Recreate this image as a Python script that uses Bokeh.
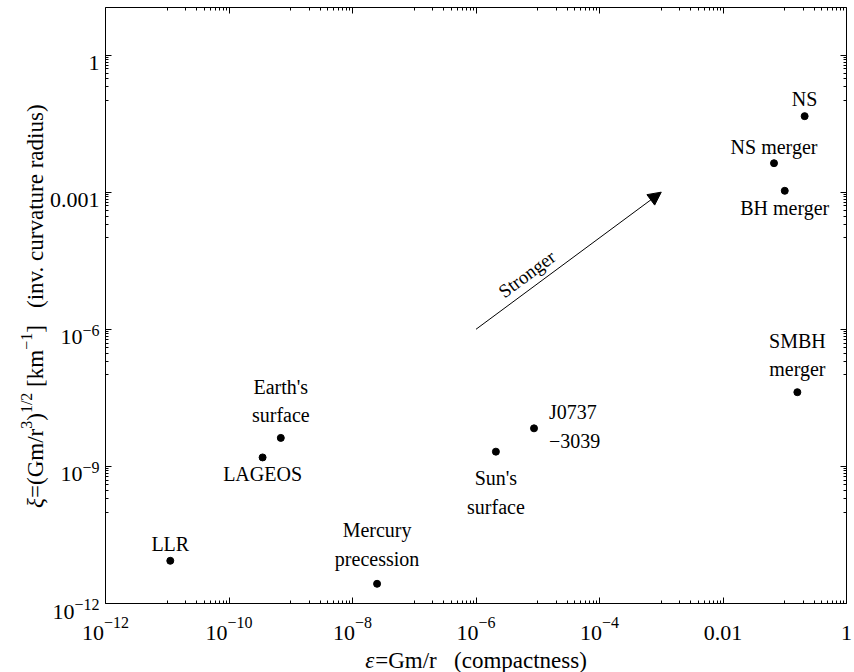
import math
from bokeh.plotting import figure
from bokeh.models import (ColumnDataSource, LogAxis, FixedTicker, Arrow, NormalHead,
                          CustomJSTickFormatter)
from bokeh.core.properties import value
from bokeh.embed import file_html
from bokeh.resources import INLINE

NB = "\u00a0"

# ---- data ----
names = ["LLR", "LAGEOS", "Earth's\nsurface", "Mercury\nprecession", "Sun's\nsurface",
         "J0737\n\u22123039", "NS", "NS merger", "BH merger", "SMBH\nmerger"]
compactness = [1.12e-11, 3.5e-10, 6.9e-10, 2.5e-8, 2.1e-6, 8.7e-6, 0.21, 0.067, 0.10, 0.16]
curvature = [8.6e-12, 1.57e-9, 4.2e-9, 2.7e-12, 2.1e-9, 6.8e-9, 0.046, 0.0043, 0.00107, 4.2e-8]

# axis extents (data) and tick labels as (base, exponent)
x_lim = (1e-12, 1.0)
y_lim = (1e-12, 10 ** 1.04)
x_major = [1e-12, 1e-10, 1e-8, 1e-6, 1e-4, 1e-2, 1.0]
x_base = ["10", "10", "10", "10", "10", "0.01", "1"]
x_exp = ["\u221212", "\u221210", "\u22128", "\u22126", "\u22124", "", ""]
y_major = [1e-12, 1e-9, 1e-6, 1e-3, 1.0]
y_base = ["10", "10", "10", "0.001", "1"]
y_exp = ["\u221212", "\u22129", "\u22126", "", ""]

arrow_start = (1e-6, 1e-6)
arrow_end = (1e-3, 1e-3)
arrow_text = "Stronger"

# axis titles split into pieces (text, superscript?, italic?)
x_title_parts = ["\u03b5", "=Gm/r" + NB * 3 + "(compactness)"]
x_title_italic = [True, False]
y_title_parts = ["\u03be", "=(Gm/r", "3", ")", "1/2", NB + "[km", "\u22121",
                 "]" + NB * 3 + "(inv." + NB + "curvature" + NB + "radius)"]
y_title_sup = [False, False, True, False, True, False, True, False]
y_title_italic = [True, False, False, False, False, False, False, False]

# point-label placement (screen px offsets from the point)
label_dx = [0, 0, 0, 0, 0, 15, 0, 0, 0, 0]
label_dy = [-17, 17, -37, -39, 41, -2, -17, -16, 17, -37]
label_align = ["center"] * 5 + ["left"] + ["center"] * 4

FONT = "Liberation Serif"
TICK_PX, EXP_PX = 22, 16
XT_PX = 23
YT_PX, YT_SUP_PX = 23, 16

# ---- layout: the frame fills the canvas; the box [x_lim]x[y_lim] sits inside ----
W, H = 854, 672
BOX_L, BOX_R, BOX_T, BOX_B = 105, 846, 7, 603
lx0, lx1 = math.log10(x_lim[0]), math.log10(x_lim[1])
ly0, ly1 = math.log10(y_lim[0]), math.log10(y_lim[1])
ppd_x = (BOX_R - BOX_L) / (lx1 - lx0)
ppd_y = (BOX_B - BOX_T) / (ly1 - ly0)
x_range = (10 ** (lx0 - BOX_L / ppd_x), 10 ** (lx1 + (W - BOX_R) / ppd_x))
y_range = (10 ** (ly0 - (H - BOX_B) / ppd_y), 10 ** (ly1 + BOX_T / ppd_y))

p = figure(width=W, height=H, x_axis_type="log", y_axis_type="log",
           x_axis_location=None, y_axis_location=None,
           x_range=x_range, y_range=y_range, output_backend="svg",
           toolbar_location=None, min_border=0)
p.outline_line_color = None
p.background_fill_color = "white"
p.border_fill_color = "white"
p.xgrid.visible = False
p.ygrid.visible = False
for r in list(p.center):
    r.visible = False


def minor_for(majors):
    out = []
    for m in majors:
        e = round(math.log10(m))
        for k in range(1, 10):
            v = k * 10.0 ** (e - 1)
            if v >= majors[0] * 0.999 and v < m:
                out.append(v)
    return out


x_minor = minor_for(x_major)
y_minor = minor_for(y_major)


def make_axis(major, minor, bounds, loc):
    ax = LogAxis(fixed_location=loc, bounds=bounds)
    ax.ticker = FixedTicker(ticks=major, minor_ticks=minor)
    ax.axis_line_color = "black"
    ax.major_tick_in = 6
    ax.major_tick_out = 0
    ax.minor_tick_in = 3
    ax.minor_tick_out = 0
    ax.major_tick_line_color = "black"
    ax.minor_tick_line_color = "black"
    ax.formatter = CustomJSTickFormatter(code="return ' '")
    ax.major_label_text_font_size = "1px"
    ax.major_label_text_alpha = 0
    ax.major_label_standoff = 0
    return ax


p.add_layout(make_axis(x_major, x_minor, x_lim, y_lim[0]), "below")
p.add_layout(make_axis(x_major, x_minor, x_lim, y_lim[1]), "above")
p.add_layout(make_axis(y_major, y_minor, y_lim, x_lim[0]), "left")
p.add_layout(make_axis(y_major, y_minor, y_lim, x_lim[1]), "right")

# approximate advance widths (em) of Liberation Serif (Times metrics)
ADV = {"\u2212": 0.564, ".": 0.25, " ": 0.25, NB: 0.25, "(": 0.333, ")": 0.333, "[": 0.333,
       "]": 0.333, "=": 0.564, "/": 0.278, "G": 0.722, "m": 0.778, "r": 0.333, "k": 0.5,
       "i": 0.278, "n": 0.5, "v": 0.5, "c": 0.444, "u": 0.5, "a": 0.444, "t": 0.278,
       "e": 0.444, "d": 0.5, "s": 0.389, "\u03be": 0.44, "\u03b5": 0.44}


def text_w(s, px):
    return sum(ADV.get(c, 0.5) for c in s) * px


# ---- tick labels ----
tl = dict(x=[], y=[], text=[], dx=[], dy=[], size=[], align=[])


def add_tl(x, y, t, dx, dy, size, align):
    for k, v in zip(tl.keys(), (x, y, t, dx, dy, f"{size}px", align)):
        tl[k].append(v)


for xv, b, e in zip(x_major, x_base, x_exp):
    if e:
        tot = text_w(b, TICK_PX) + text_w(e, EXP_PX)
        add_tl(xv, y_lim[0], b, -tot / 2, 29, TICK_PX, "left")
        add_tl(xv, y_lim[0], e, -tot / 2 + text_w(b, TICK_PX), 19, EXP_PX, "left")
    else:
        add_tl(xv, y_lim[0], b, 0, 29, TICK_PX, "center")

for yv, b, e in zip(y_major, y_base, y_exp):
    ew = text_w(e, EXP_PX) if e else 0
    add_tl(x_lim[0], yv, b, -6 - ew, 8, TICK_PX, "right")
    if e:
        add_tl(x_lim[0], yv, e, -6, 1, EXP_PX, "right")

p.text("x", "y", text="text", source=ColumnDataSource(tl), x_offset="dx", y_offset="dy",
       text_align="align", text_baseline="alphabetic", text_font=value(FONT),
       text_font_size="size", text_color="black")

# ---- axis titles ----
x_mid = 10 ** ((lx0 + lx1) / 2)
y_mid = 10 ** ((ly0 + ly1) / 2)
xt = dict(x=[], y=[], text=[], dx=[], style=[])
tot = sum(text_w(s, XT_PX) for s in x_title_parts)
cur = -tot / 2
for s, it in zip(x_title_parts, x_title_italic):
    xt["x"].append(x_mid); xt["y"].append(y_lim[0]); xt["text"].append(s)
    xt["dx"].append(cur); xt["style"].append("italic" if it else "normal")
    cur += text_w(s, XT_PX)
p.text("x", "y", text="text", source=ColumnDataSource(xt), x_offset="dx", y_offset=57,
       text_align="left", text_baseline="alphabetic", text_font=value(FONT),
       text_font_style="style", text_font_size=f"{XT_PX}px", text_color="black")

yt = dict(x=[], y=[], text=[], dx=[], dy=[], size=[], style=[])
widths = [text_w(s, YT_SUP_PX if sup else YT_PX) for s, sup in zip(y_title_parts, y_title_sup)]
cur = sum(widths) / 2
for s, sup, it, wdt in zip(y_title_parts, y_title_sup, y_title_italic, widths):
    yt["x"].append(x_lim[0]); yt["y"].append(y_mid); yt["text"].append(s)
    yt["dx"].append(-70 - (9 if sup else 0)); yt["dy"].append(cur)
    yt["size"].append(f"{YT_SUP_PX if sup else YT_PX}px")
    yt["style"].append("italic" if it else "normal")
    cur -= wdt
p.text("x", "y", text="text", source=ColumnDataSource(yt), x_offset="dx", y_offset="dy",
       angle=math.pi / 2, text_align="left", text_baseline="alphabetic",
       text_font=value(FONT), text_font_style="style", text_font_size="size",
       text_color="black")

# ---- points and their labels ----
src = ColumnDataSource(dict(x=compactness, y=curvature, name=names,
                            dx=label_dx, dy=label_dy, align=label_align))
p.scatter("x", "y", source=src, size=7, color="black")
p.text("x", "y", text="name", source=src, x_offset="dx", y_offset="dy",
       text_align="align", text_baseline="middle", text_font=value(FONT),
       text_font_size="20px", text_color="black", text_line_height=1.3)

# ---- arrow ----
p.add_layout(Arrow(end=NormalHead(size=13, fill_color="black", line_color="black"),
                   x_start=arrow_start[0], y_start=arrow_start[1],
                   x_end=arrow_end[0], y_end=arrow_end[1],
                   line_color="black", line_width=1))
ang = math.atan2(ppd_y * (math.log10(arrow_end[1]) - math.log10(arrow_start[1])),
                 ppd_x * (math.log10(arrow_end[0]) - math.log10(arrow_start[0])))
t_at = 0.32
ax_t = 10 ** (math.log10(arrow_start[0]) + t_at * (math.log10(arrow_end[0]) - math.log10(arrow_start[0])))
ay_t = 10 ** (math.log10(arrow_start[1]) + t_at * (math.log10(arrow_end[1]) - math.log10(arrow_start[1])))
p.text(x=[ax_t], y=[ay_t], text=[arrow_text], angle=ang,
       text_align="center", text_baseline="bottom", x_offset=-2, y_offset=-3,
       text_font=value(FONT), text_font_size="19px", text_color="black")

open("out.html", "w").write(file_html(p, INLINE))
